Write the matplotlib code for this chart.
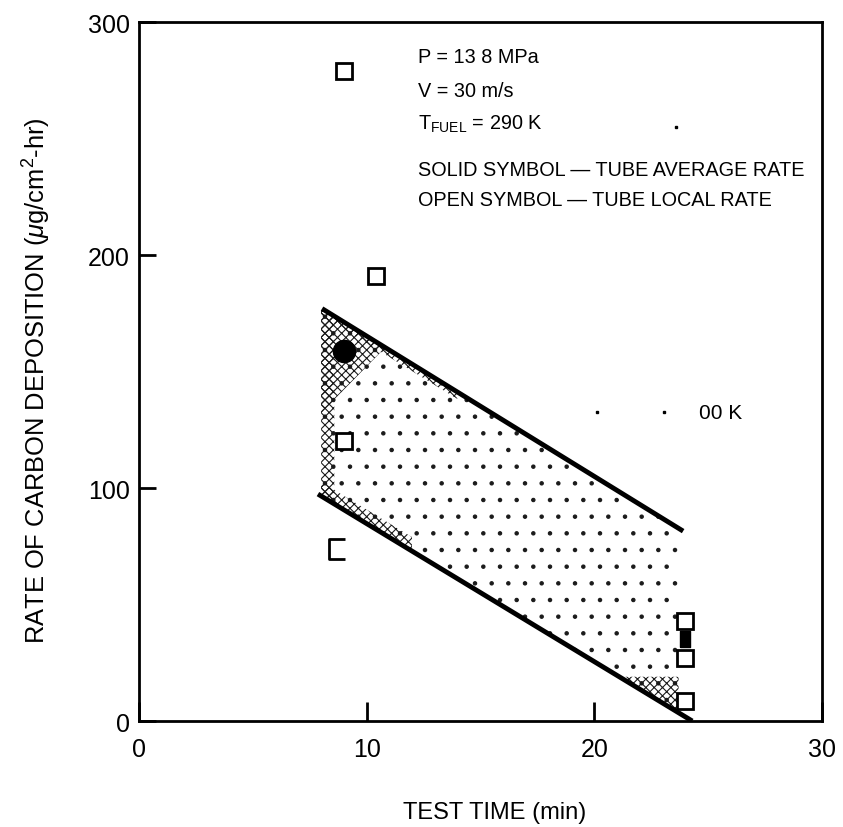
import matplotlib.pyplot as plt
import numpy as np

plt.rcParams['font.family'] = ['Liberation Sans', 'DejaVu Sans']
plt.rcParams['mathtext.fontset'] = 'custom'
plt.rcParams['mathtext.rm'] = 'Liberation Sans'
plt.rcParams['mathtext.it'] = 'Liberation Sans:italic'
plt.rcParams['hatch.linewidth'] = 0.8

# envelope lines of the scatter band
upper_x = [8.04, 23.9]
upper_y = [177, 81.5]
lower_x = [7.86, 24.3]
lower_y = [97.4, 0]

# open symbols - tube local rate
open_x = [9.0, 10.4, 9.0, 24.0, 24.0, 24.0]
open_y = [279, 191, 120, 43, 27, 8.5]
# partly printed open symbol
bracket_x = [8.8]
bracket_y = [74]
# solid symbols - tube average rate
solid_circle_x = [9.0]
solid_circle_y = [159]
solid_rect_x = [24.0]
solid_rect_y = [35]

# specks left over from a faded label
speck_x = [20.1, 23.05, 23.6]
speck_y = [132.5, 132.5, 255]

fig, ax = plt.subplots(figsize=(8.43, 8.28), dpi=100)
fig.subplots_adjust(left=0.1649, right=0.9751, bottom=0.128, top=0.9722)

# stippled band
xs = np.linspace(8.0, 23.7, 300)
up = np.interp(xs, upper_x, upper_y)
lo = np.interp(xs, lower_x, lower_y)
ax.fill_between(xs, lo, up, facecolor='none', edgecolor='0.1', hatch='.', linewidth=0)

dense = dict(facecolor='none', edgecolor='0.1', hatch='xxxx', linewidth=0)
# dense near the upper left corner
depth = np.clip(45 - 16 * (xs - 8.0), 0, None)
ax.fill_between(xs, up - depth, up, where=depth > 0, **dense)
# along the upper line
ax.fill_between(xs, up - 3, up, where=xs < 14, **dense)
# left edge strip
ax.fill_between(xs, lo, up, where=xs < 8.6, **dense)
# along the lower line
ax.fill_between(xs, lo, lo + 6, where=xs < 12, **dense)
# lower right corner
ax.fill_between(xs, lo, 19, where=(lo < 19) & (xs > 21.3), **dense)

ax.plot(upper_x, upper_y, color='black', linewidth=3.5, solid_capstyle='butt')
ax.plot(lower_x, lower_y, color='black', linewidth=3.5, solid_capstyle='butt')

ax.plot(open_x, open_y, linestyle='none', marker='s', markersize=12,
        markerfacecolor='white', markeredgecolor='black', markeredgewidth=2)
ax.plot(bracket_x, bracket_y, linestyle='none',
        marker=[(0.6, 1), (-1, 1), (-1, -1), (0.6, -1)], markersize=14,
        markerfacecolor='none', markeredgecolor='black', markeredgewidth=2)
ax.plot(solid_circle_x, solid_circle_y, linestyle='none', marker='o',
        markersize=16, color='black')
ax.plot(solid_rect_x, solid_rect_y, linestyle='none',
        marker=[(-0.6, -1), (0.6, -1), (0.6, 1), (-0.6, 1), (-0.6, -1)],
        markersize=12, color='black')
ax.plot(speck_x, speck_y, linestyle='none', marker='s', markersize=1.5, color='black')

fs = 14.3
ax.text(12.25, 285.4, 'P = 13 8 MPa', fontsize=fs, va='center')
ax.text(12.25, 270.4, 'V = 30 m/s', fontsize=fs, va='center')
ax.text(12.25, 256.6, r'$\mathregular{T_{FUEL}}$ = 290 K', fontsize=fs, va='center')
ax.text(12.25, 236.9, 'SOLID SYMBOL \u2014 TUBE AVERAGE RATE', fontsize=fs, va='center')
ax.text(12.25, 224.0, 'OPEN SYMBOL \u2014 TUBE LOCAL RATE', fontsize=fs, va='center')
ax.text(24.6, 132.6, '00 K', fontsize=15, va='center')

ax.set_xlim(0, 30)
ax.set_ylim(0, 300)
ax.set_xticks([0, 10, 20, 30])
ax.set_yticks([0, 100, 200, 300])
ax.tick_params(axis='x', direction='in', length=14, width=2, labelsize=18, pad=11.5)
ax.tick_params(axis='y', direction='in', length=12, width=2, labelsize=18, pad=6.5)
for s in ax.spines.values():
    s.set_linewidth(2)

ax.set_xlabel('TEST TIME (min)', fontsize=17, va='center')
ax.xaxis.set_label_coords(0.5205, -0.130)
ax.set_ylabel(r'RATE OF CARBON DEPOSITION ($\mu$g/cm$^2$-hr)', fontsize=18.4, va='center')
ax.yaxis.set_label_coords(-0.150, 0.489)

fig.savefig('out.png', dpi=100)
